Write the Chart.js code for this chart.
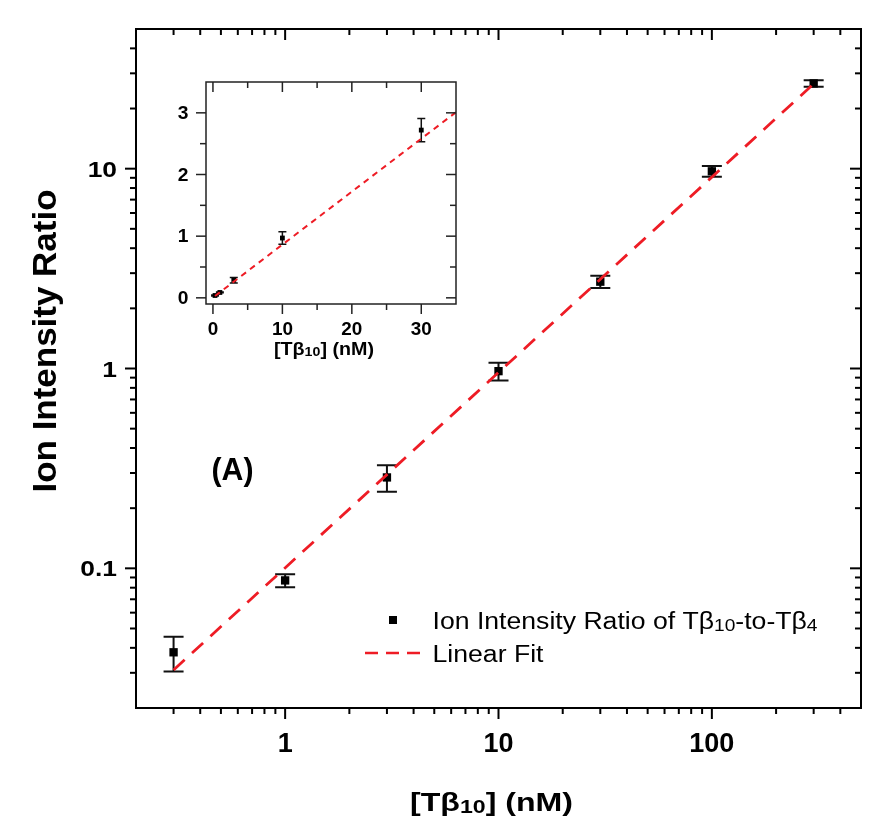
<!DOCTYPE html>
<html><head><meta charset="utf-8">
<script src="https://cdn.jsdelivr.net/npm/chart.js@4.4.0/dist/chart.umd.min.js"></script>
<style>
html,body{margin:0;padding:0;background:#fff;}
#wrap{position:relative;width:877px;height:817px;background:#fff;}
#main{position:absolute;left:0;top:0;}
#inset{position:absolute;left:140px;top:60px;}
</style></head><body>
<div id="wrap"><canvas id="main" width="877" height="817"></canvas><canvas id="inset" width="330" height="310"></canvas></div>
<script>
// ---- data ----
const concentrations = [0.3, 1, 3, 10, 30, 100, 300];
const ratios = [0.038, 0.087, 0.285, 0.97, 2.72, 9.7, 26.7];
const ratioErrors = [0.0075, 0.0065, 0.043, 0.10, 0.19, 0.6, 1.0];
const fitX = [0.3, 305];
const fitY = [0.031, 27.0];

const insetConc = [0.3, 1, 3, 10, 30];
const insetRatios = [0.038, 0.087, 0.285, 0.97, 2.72];
const insetErrors = [0.0075, 0.0065, 0.043, 0.10, 0.19];
const insetFitX = [0.3, 35];
const insetFitY = [0.03, 3.01];

const xMajorTicks = [1, 10, 100];
const xTickLabels = ['1', '10', '100'];
const yMajorTicks = [0.1, 1, 10];
const yTickLabels = ['0.1', '1', '10'];
const insetXTicks = [0, 10, 20, 30];
const insetXTickLabels = ['0', '10', '20', '30'];
const insetXMinor = [5, 15, 25];
const insetYTicks = [0, 1, 2, 3];
const insetYTickLabels = ['0', '1', '2', '3'];
const insetYMinor = [0.5, 1.5, 2.5];

const seriesLabel = [{t:'Ion Intensity Ratio of T\u03B2'}, {t:'10', sub:true}, {t:'-to-T\u03B2'}, {t:'4', sub:true}];
const fitLabel = [{t:'Linear Fit'}];
const xTitle = [{t:'[T\u03B2'}, {t:'10', sub:true}, {t:'] (nM)'}];
const yTitle = [{t:'Ion Intensity Ratio'}];
const panelLabel = [{t:'(A)'}];

const RED = '#ee1c25';
const FAM = '"Liberation Sans", Arial, sans-serif';

// ---- helpers ----
function richWidth(ctx, parts, size, weight) {
  let w = 0;
  for (const p of parts) {
    ctx.font = weight + ' ' + (p.sub ? size * 0.72 : size) + 'px ' + FAM;
    w += ctx.measureText(p.t).width;
  }
  return w;
}
function drawRich(ctx, parts, x, y, size, weight, targetW, align, rot) {
  const nat = richWidth(ctx, parts, size, weight);
  const sx = targetW ? targetW / nat : 1;
  ctx.save();
  ctx.translate(x, y);
  if (rot) ctx.rotate(rot);
  ctx.scale(sx, 1);
  ctx.fillStyle = '#000';
  ctx.textAlign = 'left';
  ctx.textBaseline = 'alphabetic';
  let cx = align === 'center' ? -nat / 2 : (align === 'right' ? -nat : 0);
  for (const p of parts) {
    const s = p.sub ? size * 0.72 : size;
    ctx.font = weight + ' ' + s + 'px ' + FAM;
    ctx.fillText(p.t, cx, p.sub ? size * 0.08 : 0);
    cx += ctx.measureText(p.t).width;
  }
  ctx.restore();
}
function drawLabel(ctx, txt, x, y, size, weight, sx, align) {
  ctx.save();
  ctx.font = weight + ' ' + size + 'px ' + FAM;
  const w = ctx.measureText(txt).width;
  ctx.translate(x, y);
  ctx.scale(sx, 1);
  ctx.fillStyle = '#000';
  ctx.textBaseline = 'alphabetic';
  ctx.textAlign = 'left';
  let cx = align === 'center' ? -w / 2 : (align === 'right' ? -w : 0);
  ctx.fillText(txt, cx, 0);
  ctx.restore();
}
function vTick(ctx, x, y0, len) { ctx.beginPath(); ctx.moveTo(x, y0); ctx.lineTo(x, y0 + len); ctx.stroke(); }
function hTick(ctx, y, x0, len) { ctx.beginPath(); ctx.moveTo(x0, y); ctx.lineTo(x0 + len, y); ctx.stroke(); }

function logMinors(min, max) {
  const out = [];
  for (let e = -3; e <= 4; e++) {
    const d = Math.pow(10, e);
    for (let k = 2; k <= 9; k++) {
      const v = k * d;
      if (v > min * 1.0001 && v < max * 0.9999) out.push(v);
    }
  }
  return out;
}

function errorBarPlugin(xs, ys, es, capHalf, lw) {
  return {
    id: 'errbars',
    beforeDatasetsDraw(chart) {
      const ctx = chart.ctx, xs_ = chart.scales.x, ys_ = chart.scales.y;
      ctx.save();
      ctx.strokeStyle = '#111';
      ctx.lineWidth = lw;
      for (let i = 0; i < xs.length; i++) {
        const px = xs_.getPixelForValue(xs[i]);
        const top = ys_.getPixelForValue(ys[i] + es[i]);
        const bot = ys_.getPixelForValue(ys[i] - es[i]);
        ctx.beginPath();
        ctx.moveTo(px, top); ctx.lineTo(px, bot);
        ctx.moveTo(px - capHalf, top); ctx.lineTo(px + capHalf, top);
        ctx.moveTo(px - capHalf, bot); ctx.lineTo(px + capHalf, bot);
        ctx.stroke();
      }
      ctx.restore();
    }
  };
}

// ---- main chart decoration ----
const mainDecor = {
  id: 'mainDecor',
  afterDraw(chart) {
    const ctx = chart.ctx, a = chart.chartArea, sx = chart.scales.x, sy = chart.scales.y;
    ctx.save();
    ctx.strokeStyle = '#000';
    ctx.lineWidth = 2;
    ctx.strokeRect(a.left, a.top, a.right - a.left, a.bottom - a.top);
    const xMin = logMinors(0.2, 500);
    for (const v of xMajorTicks) {
      const p = sx.getPixelForValue(v);
      vTick(ctx, p, a.bottom, 11); vTick(ctx, p, a.top, 11);
    }
    for (const v of xMin) {
      const p = sx.getPixelForValue(v);
      vTick(ctx, p, a.bottom, 6); vTick(ctx, p, a.top, 6);
    }
    const yMin = logMinors(0.02, 50);
    for (const v of yMajorTicks) {
      const p = sy.getPixelForValue(v);
      hTick(ctx, p, a.left, -11); hTick(ctx, p, a.right, -11);
    }
    for (const v of yMin) {
      const p = sy.getPixelForValue(v);
      hTick(ctx, p, a.left, -6); hTick(ctx, p, a.right, -6);
    }
    ctx.restore();
    xMajorTicks.forEach((v, i) => drawLabel(ctx, xTickLabels[i], sx.getPixelForValue(v), 752, 27, 'bold', 1.0, 'center'));
    yMajorTicks.forEach((v, i) => drawLabel(ctx, yTickLabels[i], 117, sy.getPixelForValue(v) + 8, 22, 'bold', 1.2, 'right'));
    drawRich(ctx, xTitle, 491.5, 811, 25, 'bold', 163, 'center');
    drawRich(ctx, yTitle, 56, 341, 34, 'bold', 303, 'center', -Math.PI / 2);
    drawRich(ctx, panelLabel, 232.5, 480, 32, 'bold', 42, 'center');
    ctx.save();
    ctx.fillStyle = '#000';
    ctx.fillRect(389, 616, 8, 8);
    ctx.strokeStyle = RED;
    ctx.lineWidth = 2.6;
    ctx.setLineDash([13, 8]);
    ctx.beginPath(); ctx.moveTo(365, 653); ctx.lineTo(420, 653); ctx.stroke();
    ctx.restore();
    drawRich(ctx, seriesLabel, 432.5, 629, 23, 'normal', 385, 'left');
    drawRich(ctx, fitLabel, 432.5, 662, 23, 'normal', 111, 'left');
  }
};

Chart.defaults.font.family = FAM;

new Chart(document.getElementById('main'), {
  type: 'scatter',
  data: {
    datasets: [
      { label: 'Linear Fit', type: 'line', data: fitX.map((x, i) => ({ x: x, y: fitY[i] })),
        borderColor: RED, borderWidth: 2.8, borderDash: [15, 10], pointRadius: 0, fill: false, order: 0, tension: 0 },
      { label: 'Ion Intensity Ratio of Tβ10-to-Tβ4', data: concentrations.map((x, i) => ({ x: x, y: ratios[i] })),
        pointStyle: 'rect', pointRadius: 5.9, backgroundColor: '#000', borderColor: '#000', borderWidth: 0, order: 1 }
    ]
  },
  options: {
    responsive: false, animation: false, events: [],
    layout: { padding: { left: 0, top: 29, right: 16, bottom: 0 } },
    plugins: { legend: { display: false }, tooltip: { enabled: false } },
    scales: {
      x: { type: 'logarithmic', min: 0.2, max: 500, ticks: { display: false }, grid: { display: false }, border: { display: false },
           afterFit: s => { s.height = 109; } },
      y: { type: 'logarithmic', min: 0.02, max: 50, ticks: { display: false }, grid: { display: false }, border: { display: false },
           afterFit: s => { s.width = 136; } }
    }
  },
  plugins: [errorBarPlugin(concentrations, ratios, ratioErrors, 10, 2), mainDecor]
});

// ---- inset chart ----
const insetDecor = {
  id: 'insetDecor',
  afterDraw(chart) {
    const ctx = chart.ctx, a = chart.chartArea, sx = chart.scales.x, sy = chart.scales.y;
    ctx.save();
    ctx.strokeStyle = '#222';
    ctx.lineWidth = 1.5;
    ctx.strokeRect(a.left, a.top, a.right - a.left, a.bottom - a.top);
    for (const v of insetXTicks) { const p = sx.getPixelForValue(v); vTick(ctx, p, a.bottom, 10); vTick(ctx, p, a.top, 10); }
    for (const v of insetXMinor) { const p = sx.getPixelForValue(v); vTick(ctx, p, a.bottom, 6); vTick(ctx, p, a.top, 6); }
    for (const v of insetYTicks) { const p = sy.getPixelForValue(v); hTick(ctx, p, a.left, -10); hTick(ctx, p, a.right, -10); }
    for (const v of insetYMinor) { const p = sy.getPixelForValue(v); hTick(ctx, p, a.left, -6); hTick(ctx, p, a.right, -6); }
    ctx.restore();
    insetXTicks.forEach((v, i) => drawLabel(ctx, insetXTickLabels[i], sx.getPixelForValue(v), 275, 17.5, 'bold', 1.08, 'center'));
    insetYTicks.forEach((v, i) => drawLabel(ctx, insetYTickLabels[i], 48.5, sy.getPixelForValue(v) + 6, 17.5, 'bold', 1.1, 'right'));
    drawRich(ctx, xTitle, 184, 295, 18, 'bold', 100, 'center');
  }
};

new Chart(document.getElementById('inset'), {
  type: 'scatter',
  data: {
    datasets: [
      { label: 'Linear Fit', type: 'line', data: insetFitX.map((x, i) => ({ x: x, y: insetFitY[i] })),
        borderColor: RED, borderWidth: 2, borderDash: [6, 5], pointRadius: 0, fill: false, order: 0, tension: 0 },
      { label: 'ratio', data: insetConc.map((x, i) => ({ x: x, y: insetRatios[i] })),
        pointStyle: 'rect', pointRadius: 3.4, backgroundColor: '#000', borderColor: '#000', borderWidth: 0, order: 1 }
    ]
  },
  options: {
    responsive: false, animation: false, events: [],
    layout: { padding: { left: 0, top: 22, right: 14, bottom: 0 } },
    plugins: { legend: { display: false }, tooltip: { enabled: false } },
    scales: {
      x: { type: 'linear', min: -1, max: 35, ticks: { display: false }, grid: { display: false }, border: { display: false },
           afterFit: s => { s.height = 66; } },
      y: { type: 'linear', min: -0.1, max: 3.5, ticks: { display: false }, grid: { display: false }, border: { display: false },
           afterFit: s => { s.width = 66; } }
    }
  },
  plugins: [errorBarPlugin(insetConc, insetRatios, insetErrors, 4, 1.5), insetDecor]
});
</script>
</body></html>
